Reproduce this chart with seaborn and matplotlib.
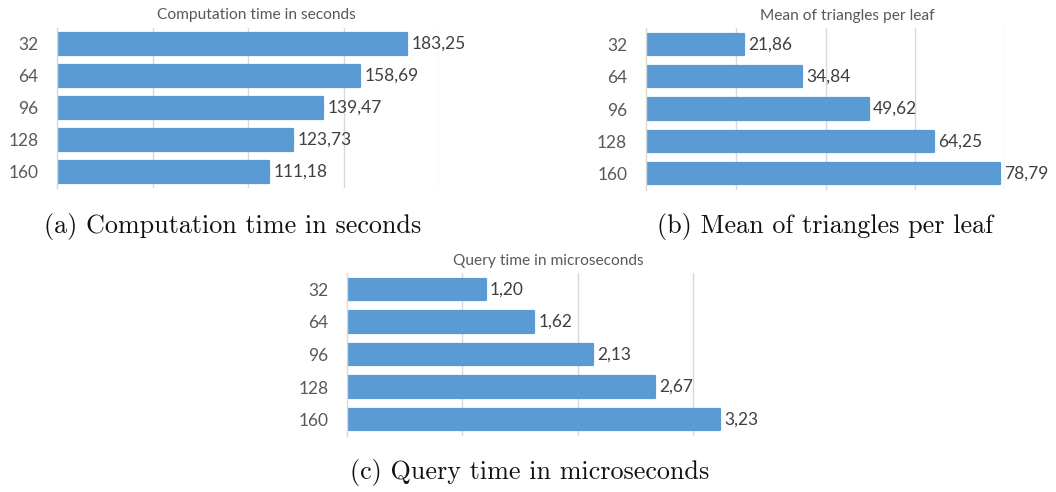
import matplotlib
matplotlib.use("Agg")
import matplotlib.pyplot as plt
import seaborn as sns
import pandas as pd
from matplotlib.ticker import FixedLocator

# Leaf sizes (max triangles per leaf) shared by all three panels
leaf_sizes = ["32", "64", "96", "128", "160"]

# Panel values
computation_seconds = [183.25, 158.69, 139.47, 123.73, 111.18]
triangles_per_leaf = [21.86, 34.84, 49.62, 64.25, 78.79]
query_microseconds = [1.20, 1.62, 2.13, 2.67, 3.23]

# Chart titles and figure captions
chart_titles = ["Computation time in seconds", "Mean of triangles per leaf",
                "Query time in microseconds"]
captions = ["(a) Computation time in seconds", "(b) Mean of triangles per leaf",
            "(c) Query time in microseconds"]

sns.set_style("white")
plt.rcParams["font.family"] = ["Lato", "DejaVu Sans"]

BAR = "#5b9bd5"
GRID = "#d9d9d9"
W, H = 1056, 492

fig = plt.figure(figsize=(W / 100, H / 100), dpi=100)


def axes_px(left, top, right, bottom):
    return fig.add_axes([left / W, 1 - bottom / H, (right - left) / W, (bottom - top) / H])


def panel(ax, values, xmax, grid_step):
    df = pd.DataFrame({"size": leaf_sizes, "value": values})
    sns.barplot(data=df, x="value", y="size", order=leaf_sizes, orient="h",
                color=BAR, saturation=1, width=0.66, ax=ax,
                edgecolor=BAR, linewidth=1.6)
    for p in ax.patches:
        p.set_joinstyle("round")
    ax.set_xlim(0, xmax)
    ax.set_ylim(4.5, -0.5)
    ticks = [grid_step * k for k in range(1, int(xmax / grid_step + 1e-9) + 1)]
    ax.set_xticks(ticks)
    ax.grid(axis="x", color=GRID, linewidth=1)
    ax.set_axisbelow(True)
    ax.tick_params(axis="x", length=0, labelbottom=False)
    ax.tick_params(axis="y", which="major", length=0, pad=13.5,
                   labelsize=12.5, labelcolor="#595959")
    ax.yaxis.set_minor_locator(FixedLocator([-0.5 + k for k in range(6)]))
    ax.tick_params(axis="y", which="minor", length=4.8, width=1, color=GRID)
    for s in ["top", "right", "bottom"]:
        ax.spines[s].set_visible(False)
    ax.spines["left"].set_color(GRID)
    ax.spines["left"].set_linewidth(1)
    ax.set_xlabel("")
    ax.set_ylabel("")
    labels = [f"{v:.2f}".replace(".", ",") for v in values]
    ax.bar_label(ax.containers[0], labels=labels, padding=3,
                 fontsize=12.5, color="#404040")


ax_a = axes_px(57, 28, 439, 188)
panel(ax_a, computation_seconds, 200, 50)
ax_b = axes_px(646, 28, 1005, 190)
panel(ax_b, triangles_per_leaf, 80, 20)
ax_c = axes_px(347, 273, 751, 436)
panel(ax_c, query_microseconds, 3.5, 1)

# Chart titles
for (x, y), t in zip([(256, 15), (847, 16), (548, 261)], chart_titles):
    fig.text(x / W, 1 - y / H, t, ha="center", va="center",
             fontsize=11.2, color="#595959")

# Figure captions
for (x, y), t in zip([(233, 227), (825, 227), (530, 472)], captions):
    fig.text(x / W, 1 - y / H, t, ha="center", va="center",
             fontsize=18.8, family="cmr10", color="#111111")

fig.savefig("out.png", dpi=100)
